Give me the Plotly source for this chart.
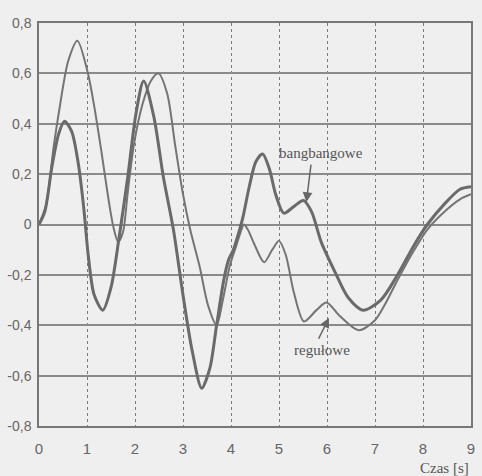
import plotly.graph_objects as go

# Czas [s] and responses
t_bang = [0, 0.12, 0.27, 0.41, 0.53, 0.68, 0.82, 0.93, 1.03, 1.15, 1.33, 1.5, 1.67, 1.85, 2.02, 2.18,
          2.39, 2.59, 2.8, 3.0, 3.19, 3.39, 3.56, 3.7, 3.85, 3.95, 4.05, 4.15, 4.25, 4.38, 4.52, 4.66,
          4.8, 4.93, 5.1, 5.3, 5.51, 5.68, 5.88, 6.17, 6.44, 6.75, 7.12, 7.47, 7.82, 8.09, 8.44, 8.77, 9.0]
y_bang = [0, 0.05, 0.23, 0.36, 0.41, 0.37, 0.24, 0.07, -0.13, -0.28, -0.34, -0.25, -0.05, 0.19, 0.44, 0.57,
          0.43, 0.19, -0.02, -0.28, -0.5, -0.65, -0.57, -0.40, -0.22, -0.14, -0.1, -0.04, 0.03, 0.15, 0.25, 0.28,
          0.22, 0.12, 0.045, 0.07, 0.095, 0.05, -0.07, -0.19, -0.29, -0.34, -0.3, -0.2, -0.08, 0.0, 0.08, 0.14, 0.15]

t_reg = [0, 0.15, 0.3, 0.41, 0.61, 0.8, 1.02, 1.15, 1.3, 1.44, 1.55, 1.65, 1.75, 1.85, 1.98, 2.16, 2.33,
         2.49, 2.67, 2.84, 3.0, 3.15, 3.35, 3.52, 3.7, 3.83, 3.98, 4.1, 4.2, 4.27, 4.35, 4.49, 4.69, 4.86,
         5.0, 5.14, 5.31, 5.52, 5.78, 5.99, 6.25, 6.66, 7.0, 7.2, 7.47, 7.82, 8.09, 8.44, 8.77, 9.0]
y_reg = [0, 0.08, 0.3, 0.44, 0.65, 0.73, 0.6, 0.47, 0.29, 0.11, -0.01, -0.07, -0.03, 0.13, 0.32, 0.48, 0.57,
         0.6, 0.52, 0.31, 0.12, -0.02, -0.17, -0.32, -0.40, -0.3, -0.16, -0.09, -0.03, 0.0, -0.02, -0.08, -0.15, -0.1,
         -0.065, -0.12, -0.27, -0.385, -0.34, -0.31, -0.36, -0.42, -0.38, -0.32, -0.22, -0.1, -0.02, 0.05, 0.1, 0.12]

x_ticks = [0, 1, 2, 3, 4, 5, 6, 7, 8, 9]
y_ticks = [0.8, 0.6, 0.4, 0.2, 0, -0.2, -0.4, -0.6, -0.8]
y_tick_text = ["0,8", "0,6", "0,4", "0,2", "0", "-0,2", "-0,4", "-0,6", "-0,8"]

line_col = "#6a6a6a"
bg = "#efefef"

fig = go.Figure()
fig.add_trace(go.Scatter(x=t_reg, y=y_reg, mode="lines", name="regułowe",
                         line=dict(color="#747474", width=2, shape="spline", smoothing=0.8)))
fig.add_trace(go.Scatter(x=t_bang, y=y_bang, mode="lines", name="bangbangowe",
                         line=dict(color=line_col, width=3, shape="spline", smoothing=0.8)))

serif = "Liberation Serif, Times New Roman, serif"
sans = "Liberation Sans, Arial, sans-serif"

fig.add_annotation(x=5.88, y=0.285, text="bangbangowe", showarrow=False,
                   font=dict(family=serif, size=15, color="#555555"))
fig.add_annotation(x=5.57, y=0.089, ax=5.67, ay=0.244, axref="x", ayref="y", text="",
                   showarrow=True, arrowhead=2, arrowsize=1.3, arrowwidth=1.5, arrowcolor="#666666")
fig.add_annotation(x=5.9, y=-0.50, text="regułowe", showarrow=False,
                   font=dict(family=serif, size=15, color="#555555"))
fig.add_annotation(x=6.04, y=-0.371, ax=5.81, ay=-0.459, axref="x", ayref="y", text="",
                   showarrow=True, arrowhead=2, arrowsize=1.3, arrowwidth=1.5, arrowcolor="#666666")
fig.add_annotation(x=1.0, y=-0.104, xref="paper", yref="paper", xanchor="right", yanchor="middle",
                   text="Czas [s]", showarrow=False, font=dict(family=serif, size=15, color="#555555"))

fig.update_layout(
    width=482, height=476,
    margin=dict(l=37, r=7, t=23, b=50),
    paper_bgcolor=bg, plot_bgcolor=bg,
    showlegend=False,
    xaxis=dict(range=[0, 9], tickvals=x_ticks, ticktext=[str(v) for v in x_ticks],
               showgrid=True, gridcolor="#7a7a7a", griddash="dot", gridwidth=1,
               showline=True, linecolor="#777777", linewidth=1.5, mirror=True,
               ticks="", ticklabelstandoff=8, zeroline=False,
               tickfont=dict(family=sans, size=15, color="#666666")),
    yaxis=dict(range=[-0.8, 0.8], tickvals=y_ticks, ticktext=y_tick_text,
               showgrid=True, gridcolor="#8a8a8a", gridwidth=1.5,
               showline=True, linecolor="#777777", linewidth=1.5, mirror=True,
               ticks="", ticklabelstandoff=3, zeroline=False,
               tickfont=dict(family=sans, size=14, color="#666666")),
)

fig.write_html("out.html", config={"displayModeBar": False},
               post_script="document.body.style.margin='0';document.body.style.background='#efefef';")
